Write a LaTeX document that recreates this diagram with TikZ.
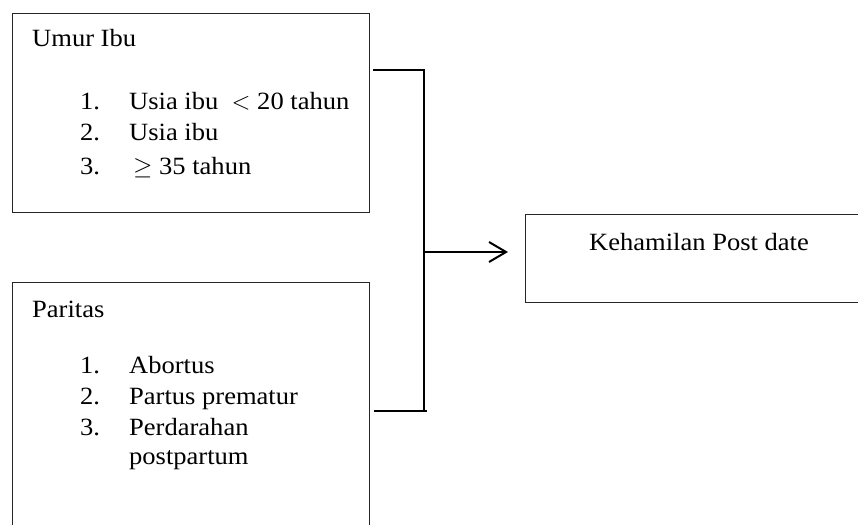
\documentclass[tikz,border=0pt]{standalone}
\usepackage{fontspec}
\setmainfont{Liberation Serif}[FakeStretch=1.07]
\usetikzlibrary{arrows.meta}
\tikzset{
  boxstyle/.style={draw=black!85, line width=1.3pt, rectangle, inner sep=0pt, anchor=north west},
  txt/.style={anchor=base west, inner sep=0pt, font=\fontsize{24.8}{29}\selectfont},
  conn/.style={draw=black, line width=2pt},
}
\begin{document}
\begin{tikzpicture}[x=1pt,y=-1pt]
\useasboundingbox (0,0) rectangle (858,524);
\clip (0,0) rectangle (858,524);
% boxes
\node[boxstyle, minimum width=357pt, minimum height=199pt] (b1) at (12,13) {};
\node[boxstyle, minimum width=357pt, minimum height=260pt] (b2) at (12,282) {};
\node[boxstyle, minimum width=345pt, minimum height=88pt] (b3) at (525,214) {};
% texts box 1
\node[txt] (t1) at (32,47) {Umur Ibu};
\node[txt] (n11) at (80,110) {1.};
\node[txt] (i11) at (129,110) {Usia ibu\ \ $<$ 20 tahun};
\node[txt] (n12) at (80,140) {2.};
\node[txt] (i12) at (129,140) {Usia ibu};
\node[txt] (n13) at (80,174) {3.};
\node[txt] (i13) at (133,174) {$\geq$ 35 tahun};
% texts box 2
\node[txt] (t2) at (32,317) {Paritas};
\node[txt] (n21) at (80,373) {1.};
\node[txt] (i21) at (129,373) {Abortus};
\node[txt] (n22) at (80,404) {2.};
\node[txt] (i22) at (129,404) {Partus prematur};
\node[txt] (n23) at (80,435) {3.};
\node[txt] (i23) at (129,435) {Perdarahan};
\node[txt] (i24) at (129,464) {postpartum};
% texts box 3
\node[txt] (t3) at (589,250) {Kehamilan Post date};
% connectors
\coordinate (j1) at (424,70);
\coordinate (j2) at (424,411);
\coordinate (jm) at (424,252);
\coordinate (e2) at (427,411);
\draw[conn] ([xshift=3pt]b1.east |- j1) -- (j1) -- (j2);
\draw[conn] ([xshift=4pt]b2.east |- j2) -- (e2);
\draw[conn, -{Straight Barb[length=17pt,width=20pt,line width=2pt]}, shorten >=17pt] (jm) -- (b3.west |- jm);
\end{tikzpicture}
\end{document}
